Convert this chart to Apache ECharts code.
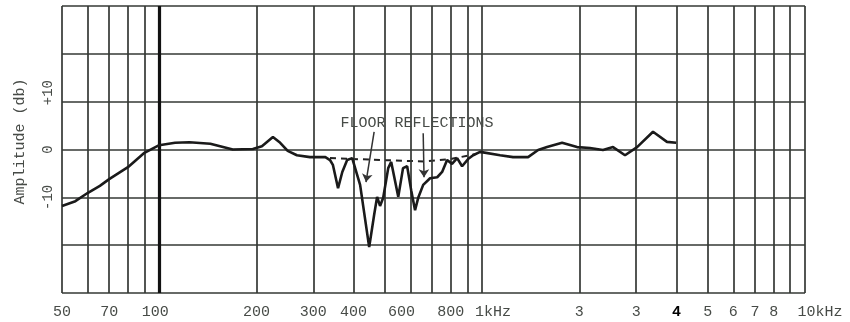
<!DOCTYPE html>
<html>
<head>
<meta charset="utf-8">
<script src="https://cdn.jsdelivr.net/npm/echarts@6/dist/echarts.min.js"></script>
<style>
html,body{margin:0;padding:0;background:#fff;}
#chart{width:850px;height:322px;}
</style>
</head>
<body>
<div id="chart"></div>
<script>
// ---- data ----
var responseFreq = [50,55,60,65.5,70,80,90,100,112,124,144,169,195,208,225,237,250,267,293,
  327,338,345,358,369,382,396,419,447,463,473,483,494,512,523,550,569,586,603,620,634,657,690,726,752,779,807,837,867,905,938,
  986,1137,1247,1388,1491,1589,1769,1968,2158,2368,2544,2771,3020,3383,3737,3989];
var responseDb = [-11.8,-10.8,-9.1,-7.6,-6.2,-3.7,-0.7,0.9,1.4,1.5,1.2,0,0.1,0.7,2.6,1.4,-0.3,-1.2,-1.6,
  -1.6,-2.2,-3.2,-8.1,-4.7,-2.2,-1.8,-7.4,-20.4,-13.7,-9.9,-11.8,-10.1,-3.9,-2.6,-9.9,-3.9,-3.5,-8.5,-12.7,-10.1,-7.4,-6.0,-5.8,-4.7,-2.2,-3.0,-1.8,-3.5,-2.0,-1.2,
  -0.5,-1.2,-1.6,-1.6,-0.1,0.5,1.4,0.5,0.3,-0.1,0.5,-1.2,0.5,3.7,1.6,1.4];
var baselineFreq = [338,483,666,796,951];
var baselineDb = [-1.8,-2.2,-2.5,-2.0,-1.0];
var gridFreqs = [50,60,70,80,90,100,200,300,400,500,600,700,800,900,1000,2000,3000,4000,5000,6000,7000,8000,9000,10000];
var tickFreqs = [50,70,100,200,300,400,600,800,1000,2000,3000,4000,5000,6000,7000,8000,10000];
var tickLabels = ['50','70','100','200','300','400','600','800','1kHz','3','3','4','5','6','7','8','10kHz'];
var yTickLabels = {'10':'+10','0':'0','-10':'-10'};
var annotationText = 'FLOOR REFLECTIONS';
var annotationAt = [629, 5.5];
var arrowFrom = [[463, 3.7],[657, 3.4]];
var arrowTo = [[437, -6.8],[661, -5.8]];

// ---- styling ----
var MONO = '"Liberation Mono", "DejaVu Sans Mono", monospace';
var labelShift = {'1kHz': 11, '10kHz': 15, '600': -9, '100': -4};
var boldLabel = {'4': true};
var TEXT = '#474b47';
var GRID = '#343834';

function pairs(a, b){ return a.map(function(v,i){ return [v, b[i]]; }); }

var gridLines = gridFreqs.map(function(f){
  var idx = tickFreqs.indexOf(f);
  var item = {xAxis: f, lineStyle: {width: f === 100 ? 3.2 : 1.7, color: f === 100 ? '#111' : GRID}};
  if (idx >= 0) {
    var t = tickLabels[idx];
    item.label = {show: true, formatter: t, offset: [labelShift[t] || 0, 0],
      fontWeight: boldLabel[t] ? 'bold' : 'normal', color: boldLabel[t] ? '#000' : TEXT};
  } else {
    item.label = {show: false};
  }
  return item;
});

var arrows = arrowFrom.map(function(p, i){ return [{coord: p}, {coord: arrowTo[i]}]; });

var chart = echarts.init(document.getElementById('chart'));
chart.setOption({
  animation: false,
  backgroundColor: '#fff',
  grid: {left: 62, right: 45, top: 6, bottom: 29, containLabel: false},
  xAxis: {
    type: 'log', logBase: 10, min: 50, max: 10000,
    axisLine: {show: false}, axisTick: {show: false}, axisLabel: {show: false}, splitLine: {show: false}
  },
  yAxis: {
    type: 'value', min: -30, max: 30, interval: 10,
    name: 'Amplitude (db)', nameLocation: 'middle', nameRotate: 90, nameGap: 34,
    nameTextStyle: {fontFamily: MONO, fontSize: 15, color: TEXT, padding: [0,0,0,16]},
    axisLine: {show: false}, axisTick: {show: false},
    axisLabel: {rotate: 90, margin: 7, fontFamily: MONO, fontSize: 14, color: TEXT,
      formatter: function(v){
        var t = yTickLabels[String(v)] || '';
        return v === 10 ? '{up|' + t + '}' : t;
      },
      rich: {up: {fontFamily: MONO, fontSize: 14, color: TEXT, padding: [0,0,0,18]}}},
    splitLine: {show: true, lineStyle: {color: GRID, width: 1.7}}
  },
  series: [
    {
      type: 'line', data: pairs(responseFreq, responseDb), symbol: 'none', smooth: false,
      lineStyle: {color: '#1a1a1a', width: 2.6}, z: 5,
      markLine: {
        silent: true, symbol: 'none', animation: false,
        label: {position: 'start', distance: 12, fontFamily: MONO, fontSize: 15, color: TEXT},
        lineStyle: {type: 'solid'},
        emphasis: {disabled: true},
        data: gridLines
      }
    },
    {
      type: 'line', data: pairs(baselineFreq, baselineDb), symbol: 'none',
      lineStyle: {color: '#222', width: 2, type: [6, 5]}, z: 4,
      markLine: {
        silent: true, symbol: ['none', 'arrow'], symbolSize: 8, animation: false,
        label: {show: false},
        lineStyle: {color: '#333', width: 1.5, type: 'solid'},
        emphasis: {disabled: true},
        data: arrows
      },
      markPoint: {
        silent: true, symbol: 'circle', symbolSize: 0, animation: false,
        label: {show: true, position: 'inside', formatter: annotationText, fontFamily: MONO, fontSize: 15, color: TEXT},
        data: [{coord: annotationAt}]
      }
    }
  ]
});
</script>
</body>
</html>
